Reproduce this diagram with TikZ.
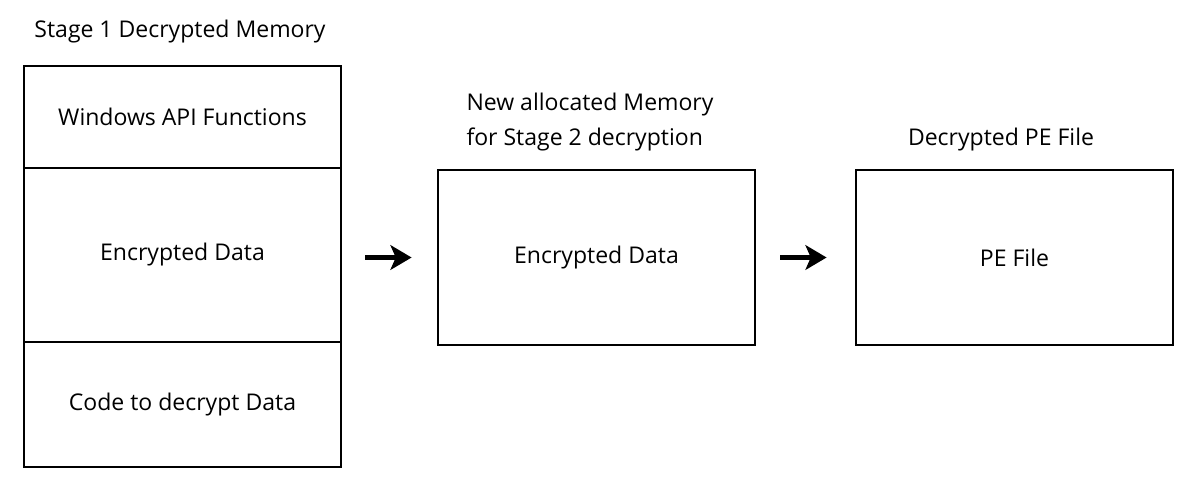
\documentclass[tikz,border=0pt]{standalone}
\usepackage{fontspec}
\setmainfont{Open Sans}
\usetikzlibrary{arrows.meta}

\begin{document}
\begin{tikzpicture}[
        mem/.style={draw, line width=1.6pt, minimum width=6.34cm, inner sep=0pt, font=\fontsize{13.1}{15}\selectfont},
        lbl/.style={inner sep=0pt, font=\fontsize{13.1}{20.4}\selectfont},
        arr/.style={line width=2.4pt, -{Stealth[length=12pt, width=14pt, inset=3pt]}},
        ]
    \useasboundingbox (0, 0) rectangle (23.94, -9.98);

    % stage 1 memory
    \node (api) at (3.65, -2.34) [mem, minimum height=2.04cm] {Windows API Functions};
    \node (enc1) at (3.65, -5.10) [mem, minimum height=3.48cm] {Encrypted Data};
    \node (code) at (3.65, -8.09) [mem, minimum height=2.50cm] {Code to decrypt Data};
    \node (title1) at (3.60, -0.64) [lbl] {Stage 1 Decrypted Memory};

    % stage 2 memory
    \node (enc2) at (11.93, -5.15) [mem, minimum height=3.50cm] {Encrypted Data};
    \node (title2) at (11.80, -2.44) [lbl, align=left] {New allocated Memory\\for Stage 2 decryption};

    % pe file
    \node (pe) at (20.29, -5.15) [mem, minimum height=3.50cm] {PE File};
    \node (title3) at (20.02, -2.80) [lbl] {Decrypted PE File};

    \draw [arr, shorten <=0.46cm, shorten >=0.50cm] (enc1.east |- enc2) -- (enc2.west);
    \draw [arr, shorten <=0.48cm, shorten >=0.56cm] (enc2.east) -- (pe.west);
\end{tikzpicture}
\end{document}
